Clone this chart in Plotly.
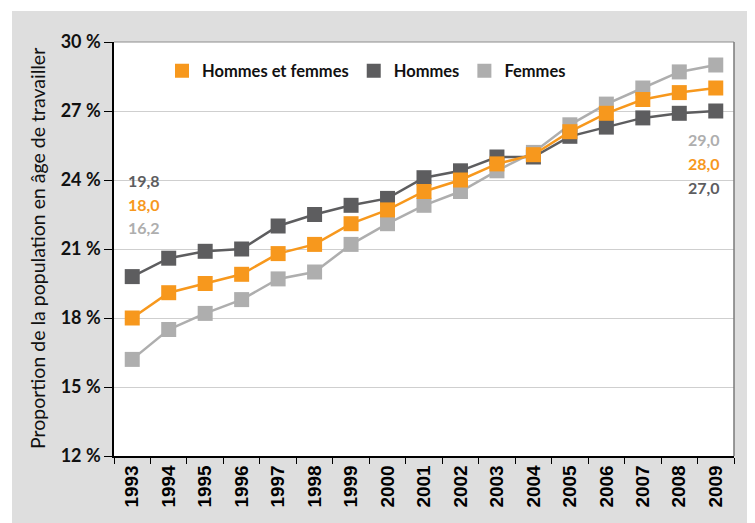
import plotly.graph_objects as go

years = [str(y) for y in range(1993, 2010)]
hommes_et_femmes = [18.0, 19.1, 19.5, 19.9, 20.8, 21.2, 22.1, 22.7, 23.5, 24.0, 24.7, 25.1, 26.1, 26.9, 27.5, 27.8, 28.0]
hommes = [19.8, 20.6, 20.9, 21.0, 22.0, 22.5, 22.9, 23.2, 24.1, 24.4, 25.0, 25.0, 25.9, 26.3, 26.7, 26.9, 27.0]
femmes = [16.2, 17.5, 18.2, 18.8, 19.7, 20.0, 21.2, 22.1, 22.9, 23.5, 24.4, 25.2, 26.4, 27.3, 28.0, 28.7, 29.0]
series_names = ["Hommes et femmes", "Hommes", "Femmes"]
y_tick_vals = [12, 15, 18, 21, 24, 27, 30]
y_tick_text = ["12 %", "15 %", "18 %", "21 %", "24 %", "27 %", "30 %"]
y_title = "Proportion de la population en âge de travailler"

C_ORANGE = "#F7981D"
C_DARK = "#5D5D5F"
C_LIGHT = "#AEAEAE"
BG = "#DEDEDE"

OFF = 8  # page body margin
W, H = 755 - OFF, 523 - OFF
ML, MT = 114 - OFF, 42 - OFF
MR = W - (734 - OFF)
MB = H - (456 - OFF)
PW, PH = W - ML - MR, H - MT - MB

def fmt(v):
    return f"{v:.1f}".replace(".", ",")

def px_x(sx):
    return (sx - OFF - ML) / PW

def px_y(sy):
    return 1 - (sy - OFF - MT) / PH

fig = go.Figure()
series = [(hommes_et_femmes, C_ORANGE), (hommes, C_DARK), (femmes, C_LIGHT)]
for idx in [2, 1, 0]:
    vals, col = series[idx]
    fig.add_trace(go.Scatter(
        x=years, y=vals, mode="lines+markers", name=series_names[idx],
        line=dict(color=col, width=2.5),
        marker=dict(symbol="square", size=15, color=col),
        showlegend=False, cliponaxis=False))
for idx in [0, 1, 2]:
    vals, col = series[idx]
    fig.add_trace(go.Scatter(
        x=[None], y=[None], mode="markers", name=series_names[idx],
        marker=dict(symbol="square", size=14, color=col), showlegend=True))

ann_font = dict(family="Lato", size=16, weight="bold")
left_y = [24.0, 22.95, 21.95]
for (vals, col), yy in zip([series[1], series[0], series[2]], left_y):
    fig.add_annotation(x=0, y=yy, xref="x", yref="y", text=fmt(vals[0]),
                       showarrow=False, xanchor="left", xshift=-6,
                       font=dict(color=col, **ann_font))
right_y = [25.77, 24.73, 23.68]
for (vals, col), yy in zip([series[2], series[0], series[1]], right_y):
    fig.add_annotation(x=len(years) - 1, y=yy, xref="x", yref="y", text=fmt(vals[-1]),
                       showarrow=False, xanchor="right", xshift=6,
                       font=dict(color=col, **ann_font))

fig.add_annotation(x=px_x(37), y=0.5, xref="paper", yref="paper",
                   xanchor="center", yanchor="middle",
                   text=y_title, textangle=-90, showarrow=False,
                   font=dict(family="Lato", size=19.5, color="#111111"))

fig.add_shape(type="rect", xref="paper", yref="paper", layer="below",
              x0=px_x(0) - 0.01, x1=px_x(12), y0=px_y(540), y1=px_y(-5),
              fillcolor="white", line=dict(width=0))
fig.add_shape(type="rect", xref="paper", yref="paper", layer="below",
              x0=px_x(0) - 0.01, x1=px_x(770), y0=px_y(11), y1=px_y(-5),
              fillcolor="white", line=dict(width=0))
fig.add_shape(type="line", xref="paper", yref="paper", x0=0, x1=1, y0=1, y1=1,
              line=dict(color="#8E8E8E", width=1.2))
fig.add_shape(type="line", xref="paper", yref="paper", x0=1, x1=1, y0=0, y1=1,
              line=dict(color="#7A7A7A", width=1.5))

fig.update_layout(
    width=W, height=H,
    margin=dict(l=ML, r=MR, t=MT, b=MB, pad=0),
    paper_bgcolor=BG, plot_bgcolor="white",
    legend=dict(orientation="h", x=px_x(162), y=px_y(71),
                xanchor="left", yanchor="middle", bgcolor="rgba(0,0,0,0)",
                font=dict(family="Lato", size=16.5, weight="bold", color="#111111"),
                itemwidth=30, traceorder="normal"),
    xaxis=dict(type="category", range=[-0.5, len(years) - 0.5], tickson="boundaries",
               ticks="outside", ticklen=6, tickwidth=1.2, tickcolor="black",
               showline=True, linecolor="black", linewidth=1.5, showgrid=False,
               tickangle=-90, tickfont=dict(family="Liberation Sans", size=19, weight="bold", color="black"),
               zeroline=False),
    yaxis=dict(range=[12, 30], tickvals=y_tick_vals, ticktext=y_tick_text,
               ticks="outside", ticklen=8, tickwidth=1.2, tickcolor="black",
               showline=True, linecolor="black", linewidth=1.5,
               showgrid=True, gridcolor="#CFCFCF", gridwidth=1, zeroline=False,
               tickfont=dict(family="Lato", size=18, weight="bold", color="#111111")),
)

fig.write_html("out.html")
